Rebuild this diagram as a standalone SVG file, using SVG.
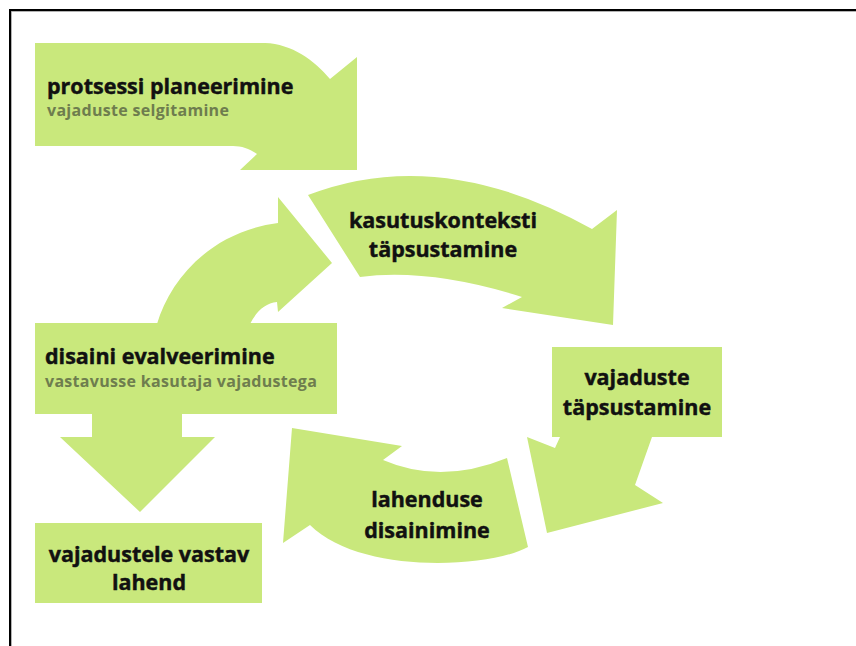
<svg xmlns="http://www.w3.org/2000/svg" width="856" height="646" viewBox="0 0 856 646">
<style>
.shape{fill:#c9e87c;}
.t{font-family:"Open Sans","Noto Sans","Liberation Sans",sans-serif;font-weight:bold;font-size:21.5px;fill:#111;stroke:#111;stroke-width:0.45px;}
.s{font-family:"Open Sans","Noto Sans","Liberation Sans",sans-serif;font-weight:bold;font-size:16px;letter-spacing:0.3px;fill:#6e7d4e;}
.c{text-anchor:middle;}
</style>
<rect x="0" y="0" width="856" height="646" fill="#ffffff"/>
<g id="frame">
<line x1="10" y1="11" x2="856" y2="11" stroke="#999" stroke-width="1.5"/>
<line x1="11" y1="10" x2="11" y2="646" stroke="#999" stroke-width="1.5"/>
<line x1="9" y1="10" x2="856" y2="10" stroke="#000" stroke-width="2"/>
<line x1="10" y1="9" x2="10" y2="646" stroke="#000" stroke-width="2"/>
</g>
<g id="connectors"></g>
<g id="node-protsessi">
<path class="shape" d="M35,43 L265,43 C292,44 314,60 330,79 L357,57 L357,170 L240,170 L257,154 C250,149 242,146 233,146 L35,146 Z"/>
<text class="t" x="47" y="94">protsessi planeerimine</text>
<text class="s" x="47" y="116">vajaduste selgitamine</text>
</g>
<g id="node-kasutuskontekst">
<path class="shape" d="M308,195 Q440,144 592,229 L617,210 L613,325 L502,308 L522,297 Q430,268 360,277 Z"/>
<text class="t c" x="443" y="228">kasutuskonteksti</text>
<text class="t c" x="443" y="257">täpsustamine</text>
</g>
<g id="node-vajaduste">
<path class="shape" d="M552,347 H722 V437 H652 L635,485 L663,503 L547,533 L527,437 L555,448 L560,437 H552 Z"/>
<text class="t c" x="637" y="385">vajaduste</text>
<text class="t c" x="637" y="415">täpsustamine</text>
</g>
<g id="node-lahenduse">
<path class="shape" d="M292,428 L402,446 L383,460 Q441,485 507,458 L528,547 C490,568 360,575 310,525 L283,543 Z"/>
<text class="t c" x="427" y="507">lahenduse</text>
<text class="t c" x="427" y="538">disainimine</text>
</g>
<g id="node-disaini">
<path class="shape" d="M157,324 C170,280 210,232 278,223 L278,197 L332,263 L278,312 L277,302 C265,303 256,312 250,324 Z"/>
<rect class="shape" x="35" y="323" width="302" height="91"/>
<path class="shape" d="M92,413 H182 V437 H215 L140,512 L60,437 H92 Z"/>
<text class="t" x="45" y="364">disaini evalveerimine</text>
<text class="s" x="45" y="387">vastavusse kasutaja vajadustega</text>
</g>
<g id="node-lahend">
<rect class="shape" x="35" y="523" width="227" height="80"/>
<text class="t c" x="149" y="562">vajadustele vastav</text>
<text class="t c" x="149" y="590">lahend</text>
</g>
</svg>
